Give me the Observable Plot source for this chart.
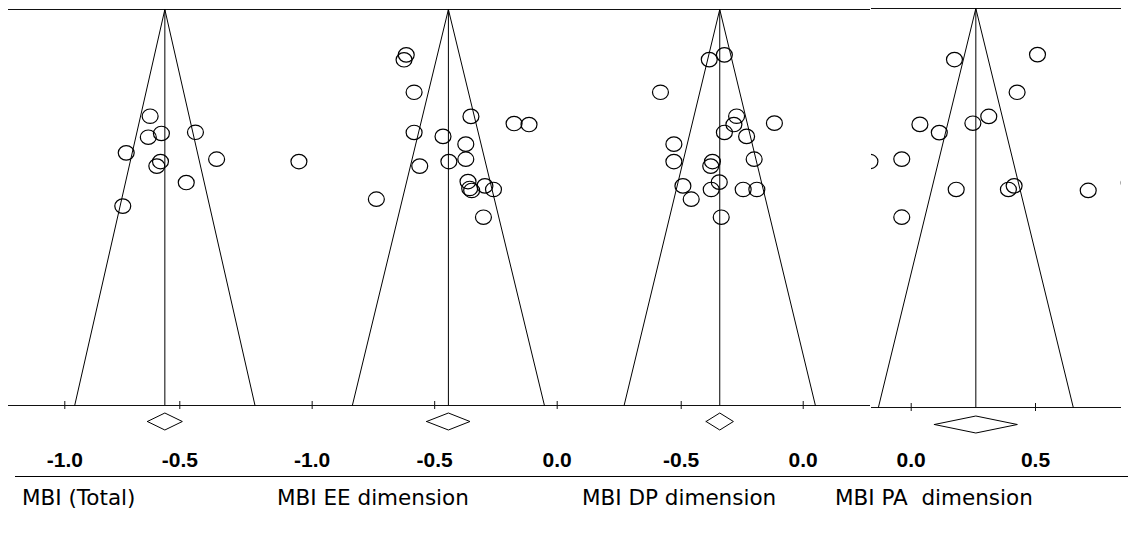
<!DOCTYPE html>
<html><head><meta charset="utf-8">
<script src="https://cdn.jsdelivr.net/npm/d3@7"></script>
<script src="https://cdn.jsdelivr.net/npm/@observablehq/plot@0.6"></script>
<style>
body{margin:0;background:#fff;}
#chart{position:relative;width:1138px;height:536px;overflow:hidden;background:#fff;}
#chart svg{position:absolute;top:0;overflow:visible;}
.lbl{position:absolute;font-family:"DejaVu Sans";font-size:21.5px;line-height:21.5px;white-space:pre;color:#000;}
#sep{position:absolute;left:15px;top:476px;width:1113px;height:1px;background:#000;}
</style></head><body><div id="chart"></div>
<script>
// ---- data ----
const panelNames = ["MBI (Total)", "MBI EE dimension", "MBI DP dimension", "MBI PA  dimension"];
const pooled = [-0.565, -0.444, -0.342, 0.26];
const ciLow  = [-0.641, -0.533, -0.398, 0.093];
const ciHigh = [-0.489, -0.356, -0.286, 0.427];
const tickValues = [[-1.0, -0.5], [-1.0, -0.5, 0.0], [-0.5, 0.0], [0.0, 0.5]];

const effTotal = [-0.629, -0.637, -0.580, -0.432, -0.733, -0.584, -0.600, -0.340, -0.472, -0.748];
const seTotal  = [0.0539, 0.0645, 0.0626, 0.0620, 0.0724, 0.0768, 0.0791, 0.0756, 0.0874, 0.0993];

const effEE = [-0.616, -0.625, -0.584, -0.352, -0.176, -0.115, -0.584, -0.466, -0.373, -1.054, -0.373, -0.442, -0.561, -0.364, -0.357, -0.349, -0.295, -0.260, -0.738, -0.301];
const seEE  = [0.0229, 0.0254, 0.0418, 0.0540, 0.0576, 0.0581, 0.0621, 0.0641, 0.0680, 0.0768, 0.0756, 0.0768, 0.0791, 0.0869, 0.0904, 0.0914, 0.0891, 0.0909, 0.0958, 0.1049];

const effDP = [-0.385, -0.323, -0.585, -0.273, -0.284, -0.118, -0.323, -0.232, -0.530, -0.530, -0.372, -0.379, -0.201, -0.344, -0.493, -0.377, -0.459, -0.246, -0.190, -0.336];
const seDP  = [0.0253, 0.0229, 0.0418, 0.0539, 0.0581, 0.0574, 0.0621, 0.0641, 0.0680, 0.0768, 0.0768, 0.0791, 0.0756, 0.0872, 0.0891, 0.0909, 0.0958, 0.0909, 0.0909, 0.1049];

const effPA = [0.174, 0.508, 0.426, 0.035, 0.113, 0.248, 0.312, -0.166, -0.038, 0.181, 0.391, 0.414, 0.712, 0.877, -0.038];
const sePA  = [0.0256, 0.0231, 0.0420, 0.0581, 0.0622, 0.0575, 0.0541, 0.0767, 0.0755, 0.0907, 0.0907, 0.0889, 0.0912, 0.0874, 0.1046];

const seMax = 0.2;

// ---- layout ----
const effects = [effTotal, effEE, effDP, effPA];
const ses = [seTotal, seEE, seDP, sePA];
const layout = [
  {left: 8,   width: 262, domain: [-1.2448, -0.1057], top: 9, bottom: 405, labelLeft: 22},
  {left: 270, width: 300, domain: [-1.170, 0.0543],   top: 9, bottom: 405, labelLeft: 277},
  {left: 570, width: 300, domain: [-0.9537, 0.2758],  top: 9, bottom: 405, labelLeft: 582},
  {left: 871, width: 250, domain: [-0.1597, 0.8459],  top: 8, bottom: 407, labelLeft: 835}
];
const H = 480;

const ellipse = {
  draw(ctx, size) {
    const r = Math.sqrt(size / Math.PI), rx = r * 1.05, ry = r * 0.95, k = 0.5523;
    ctx.moveTo(rx, 0);
    ctx.bezierCurveTo(rx, ry * k, rx * k, ry, 0, ry);
    ctx.bezierCurveTo(-rx * k, ry, -rx, ry * k, -rx, 0);
    ctx.bezierCurveTo(-rx, -ry * k, -rx * k, -ry, 0, -ry);
    ctx.bezierCurveTo(rx * k, -ry, rx, -ry * k, rx, 0);
    ctx.closePath();
  }
};

const chart = document.getElementById("chart");

layout.forEach((L, i) => {
  const pxPerSe = (L.bottom - L.top) / seMax;
  const c = pooled[i];
  const pts = effects[i].map((e, j) => ({e, se: ses[i][j]}));
  const funnel = [
    {x: c - 1.96 * seMax, y: seMax},
    {x: c, y: 0},
    {x: c + 1.96 * seMax, y: seMax}
  ];
  const dY = seMax + (L.bottom === 407 ? 17 : 16) / pxPerSe;
  const dH = 8.5 / pxPerSe;
  const diamond = [
    {x: ciLow[i], y: dY}, {x: c, y: dY - dH}, {x: ciHigh[i], y: dY},
    {x: c, y: dY + dH}, {x: ciLow[i], y: dY}
  ];
  const tk = 4 / pxPerSe;
  const svg = Plot.plot({
    width: L.width,
    height: H,
    marginLeft: 0, marginRight: 0,
    marginTop: L.top, marginBottom: H - L.bottom,
    x: {domain: L.domain, axis: null},
    y: {domain: [0, seMax], reverse: true, axis: null},
    style: {background: "transparent", overflow: "visible"},
    marks: [
      Plot.ruleY([0], {stroke: "#111", strokeWidth: 1.2}),
      Plot.ruleY([seMax], {stroke: "#111", strokeWidth: 1}),
      Plot.ruleX(tickValues[i], {x: d => d, y1: seMax - tk, y2: seMax + tk, stroke: "#111"}),
      Plot.line(funnel, {x: "x", y: "y", stroke: "#000", strokeWidth: 1}),
      Plot.ruleX([c], {y1: 0, y2: seMax, stroke: "#000", strokeWidth: 1}),
      Plot.dot(pts, {x: "e", y: "se", r: 7.6, symbol: ellipse, stroke: "#000", strokeWidth: 1.2, fill: "none", clip: true}),
      Plot.line(diamond, {x: "x", y: "y", stroke: "#000", strokeWidth: 1}),
      Plot.text(tickValues[i], {x: d => d, y: seMax, dy: (L.bottom === 407 ? 53 : 54.5), text: d => d.toFixed(1),
        fontFamily: "Liberation Sans", fontWeight: "bold", fontSize: 21, fill: "#000", textAnchor: "middle"})
    ]
  });
  svg.style.left = L.left + "px";
  chart.appendChild(svg);

  const lbl = document.createElement("div");
  lbl.className = "lbl";
  lbl.textContent = panelNames[i];
  lbl.style.left = L.labelLeft + "px";
  lbl.style.top = "487px";
  chart.appendChild(lbl);
});

const sep = document.createElement("div");
sep.id = "sep";
chart.appendChild(sep);
</script>
</body></html>
